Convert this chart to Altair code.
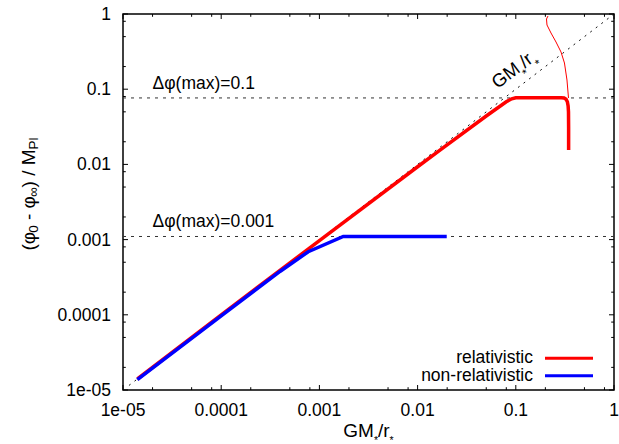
import altair as alt
import pandas as pd

FONT = "Liberation Sans"
W, H = 491, 376

# ---------------- data ----------------
rel_x = [1.4e-5, 1e-4, 1e-3, 0.01, 0.0169, 0.05, 0.08, 0.0908, 0.1, 0.12, 0.2, 0.29, 0.31,
         0.325, 0.335, 0.341, 0.344, 0.345, 0.345]
rel_y = [1.4e-5, 1e-4, 0.97e-3, 0.0093, 0.0155, 0.044, 0.068, 0.0745, 0.0768, 0.0772, 0.0772,
         0.0772, 0.0765, 0.0735, 0.068, 0.06, 0.05, 0.03, 0.0155]

thin_x = [0.344, 0.332, 0.313, 0.2886, 0.2567, 0.2283, 0.2078, 0.2054, 0.2128]
thin_y = [0.0764, 0.1325, 0.223, 0.3124, 0.4242, 0.5588, 0.714, 0.858, 0.9406]

nonrel_x = [1.4e-5, 1e-4, 4e-4, 0.00077, 0.00175, 0.0198]
nonrel_y = [1.37e-5, 0.97e-4, 3.8e-4, 0.00069, 0.0011, 0.0011]

diag_x = [1.15e-5, 1.0]
diag_y = [1.15e-5, 1.0]

dphi_levels = [0.0765, 0.0011]
dphi_labels = ["Δφ(max)=0.1", "Δφ(max)=0.001"]

X_TICKS = [1e-5, 1e-4, 1e-3, 1e-2, 1e-1, 1.0]
X_LABELS = ["1e-05", "0.0001", "0.001", "0.01", "0.1", "1"]
Y_TICKS = [1e-5, 1e-4, 1e-3, 1e-2, 1e-1, 1.0]
Y_LABELS = ["1e-05", "0.0001", "0.001", "0.01", "0.1", "1"]
MINOR_MULT = [2, 5, 8]

legend_names = ["relativistic", "non-relativistic"]
legend_colors = ["#ff0000", "#0000ff"]

# ---------------- helpers ----------------
xs = alt.Scale(type="log", domain=[1e-5, 1], nice=False)
ys = alt.Scale(type="log", domain=[1e-5, 1], nice=False)

WID = {'G': 778, 'M': 833, '*': 389, '/': 278, 'r': 333, '(': 333, ')': 333, ' ': 278,
       '-': 333, '0': 556, 'P': 667, 'l': 222, 'φ': 600, '∞': 713}


def tw(s, fs):
    return sum(WID.get(c, 556) for c in s) / 1000.0 * fs


def line_layer(xv, yv, color, width, dash=None):
    df = pd.DataFrame({"x": xv, "y": yv, "i": list(range(len(xv)))})
    kw = dict(color=color, strokeWidth=width)
    if dash:
        kw["strokeDash"] = dash
    return alt.Chart(df).mark_line(**kw).encode(
        x=alt.X("x:Q", scale=xs, axis=None),
        y=alt.Y("y:Q", scale=ys, axis=None),
        order="i:Q",
    )


def rich_text(pieces, anchor_enc, data, angle, fs, sub_fs, sub_dy, center=True):
    widths = [tw(t, sub_fs if s else fs) for t, s in pieces]
    start = -sum(widths) / 2 if center else 0
    layers = []
    off = start
    for (t, s), w in zip(pieces, widths):
        f = sub_fs if s else fs
        lead = len(t) - len(t.lstrip(" "))
        kw = dict(align="left", baseline="alphabetic", font=FONT, color="black",
                  fontSize=f, dx=off + tw(" " * lead, f), dy=sub_dy if s else 0)
        if angle:
            kw["angle"] = angle
        layers.append(alt.Chart(data).mark_text(**kw).encode(text=alt.value(t.strip(" ")),
                                                             **anchor_enc))
        off += w
    return layers


layers = []
# dotted reference lines
layers.append(line_layer([1e-5, 1.0], [dphi_levels[0]] * 2, "#333333", 1, [3, 5]))
layers.append(line_layer([1e-5, 1.0], [dphi_levels[1]] * 2, "#333333", 1, [3, 5]))
layers.append(line_layer(diag_x, diag_y, "#111111", 1, [2, 5]))
# curves
layers.append(line_layer(rel_x, rel_y, "#ff0000", 3.5))
layers.append(line_layer(thin_x, thin_y, "#ff0000", 1))
layers.append(line_layer(nonrel_x, nonrel_y, "#0000ff", 3.5))

# inward ticks (mirrored on all four sides)
minor = [d * m for d in X_TICKS[:-1] for m in MINOR_MULT]
for vals, ln in [(X_TICKS, 5), (minor, 2.8)]:
    df = pd.DataFrame({"v": vals})
    layers.append(alt.Chart(df).mark_rule(color="black", strokeWidth=1).encode(
        x=alt.X("v:Q", scale=xs, axis=None), y=alt.value(H), y2=alt.value(H - ln)))
    layers.append(alt.Chart(df).mark_rule(color="black", strokeWidth=1).encode(
        x=alt.X("v:Q", scale=xs, axis=None), y=alt.value(0), y2=alt.value(ln)))
    layers.append(alt.Chart(df).mark_rule(color="black", strokeWidth=1).encode(
        y=alt.Y("v:Q", scale=ys, axis=None), x=alt.value(0), x2=alt.value(ln)))
    layers.append(alt.Chart(df).mark_rule(color="black", strokeWidth=1).encode(
        y=alt.Y("v:Q", scale=ys, axis=None), x=alt.value(W), x2=alt.value(W - ln)))

# tick labels (placed through the scales)
xl = pd.DataFrame({"v": X_TICKS, "t": X_LABELS})
layers.append(alt.Chart(xl).mark_text(align="center", baseline="alphabetic", font=FONT,
                                      fontSize=17.5, color="black").encode(
    x=alt.X("v:Q", scale=xs, axis=None), y=alt.value(H + 25.5), text="t:N"))
yl = pd.DataFrame({"v": Y_TICKS, "t": Y_LABELS})
layers.append(alt.Chart(yl).mark_text(align="right", baseline="middle", font=FONT, dy=1,
                                      fontSize=17.5, color="black").encode(
    y=alt.Y("v:Q", scale=ys, axis=None), x=alt.value(-12), text="t:N"))

# dphi labels
dl = pd.DataFrame({"x": [2e-5, 2e-5], "y": dphi_levels, "t": dphi_labels})
layers.append(alt.Chart(dl).mark_text(align="left", baseline="alphabetic", dy=-9, font=FONT,
                                      fontSize=17.5, color="black").encode(
    x=alt.X("x:Q", scale=xs, axis=None), y=alt.Y("y:Q", scale=ys, axis=None), text="t:N"))

# GM*/r* label on the diagonal
gm = pd.DataFrame({"x": [0.065], "y": [0.1]})
layers += rich_text([("GM", False), ("*", True), ("/r", False), ("*", True)],
                    dict(x=alt.X("x:Q", scale=xs, axis=None), y=alt.Y("y:Q", scale=ys, axis=None)),
                    gm, 323, 18.5, 12, 8, center=False)

one = pd.DataFrame({"a": [0]})
# x title
layers += rich_text([("GM", False), ("*", True), ("/r", False), ("*", True)],
                    dict(x=alt.value(245.5), y=alt.value(423)), one, 0, 19, 10.5, 7)
# y title
layers += rich_text([("(φ", False), ("0", True), (" - φ", False), ("∞", True), (") / M", False),
                     ("Pl", True)],
                    dict(x=alt.value(-88), y=alt.value(180)), one, 270, 19, 13.5, 3)

# legend
for i, (name, col) in enumerate(zip(legend_names, legend_colors)):
    yb = 349 + i * 17.5
    layers.append(alt.Chart(one).mark_text(align="right", baseline="alphabetic", font=FONT,
                                           fontSize=17.5, color="black").encode(
        text=alt.value(name), x=alt.value(410), y=alt.value(yb)))
    layers.append(alt.Chart(one).mark_rule(color=col, strokeWidth=3).encode(
        x=alt.value(422), x2=alt.value(470), y=alt.value(yb - 4.7)))

chart = alt.layer(*layers).properties(
    width=W, height=H,
    padding={"left": 123, "top": 14, "right": 5, "bottom": 54},
    autosize=alt.AutoSizeParams(type="none"),
    background="white",
).configure_view(stroke="black", strokeWidth=1.5)

chart.save("out.html", embed_options={"renderer": "svg", "actions": False})
